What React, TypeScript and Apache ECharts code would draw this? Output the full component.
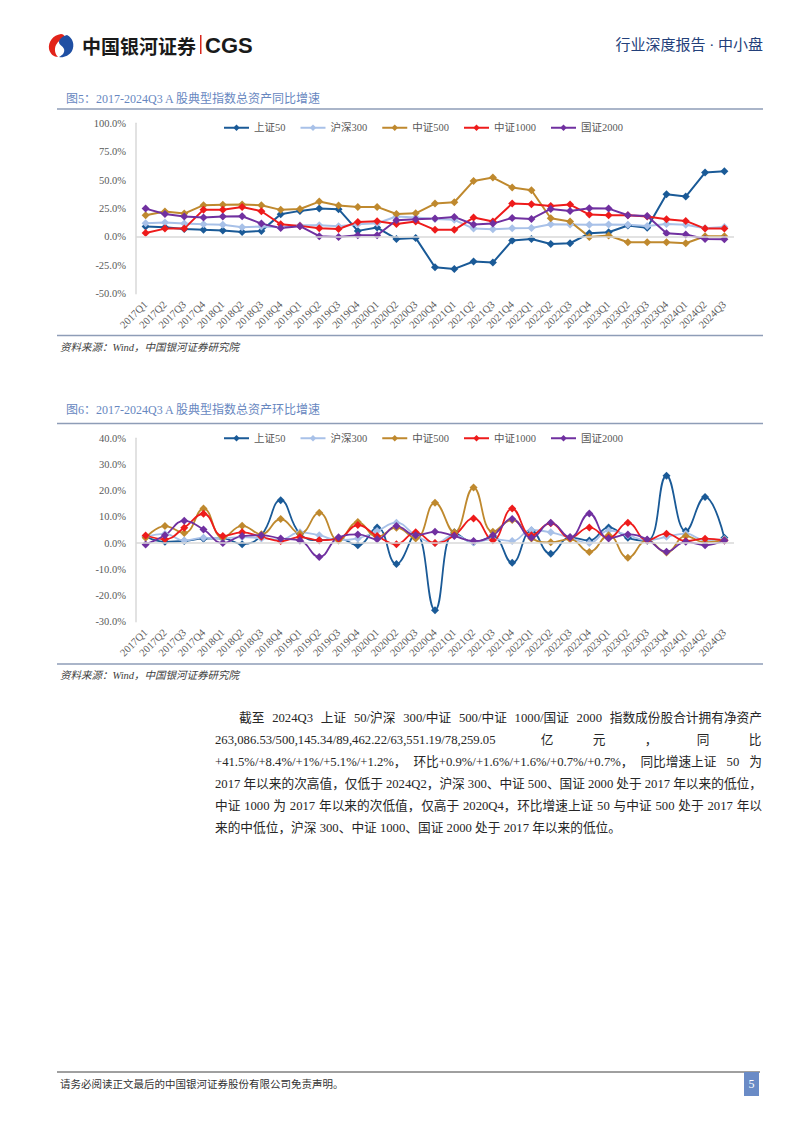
import React, { useEffect, useRef } from "react";
import * as echarts from "echarts";

// ---------------- data ----------------
const categories = [
  "2017Q1", "2017Q2", "2017Q3", "2017Q4",
  "2018Q1", "2018Q2", "2018Q3", "2018Q4",
  "2019Q1", "2019Q2", "2019Q3", "2019Q4",
  "2020Q1", "2020Q2", "2020Q3", "2020Q4",
  "2021Q1", "2021Q2", "2021Q3", "2021Q4",
  "2022Q1", "2022Q2", "2022Q3", "2022Q4",
  "2023Q1", "2023Q2", "2023Q3", "2023Q4",
  "2024Q1", "2024Q2", "2024Q3",
];

const seriesNames = ["上证50", "沪深300", "中证500", "中证1000", "国证2000"];

// 同比增速 (%)
const sz50Yoy = [9.1, 8.5, 7.0, 6.2, 5.6, 4.4, 5.3, 20.0, 22.9, 25.0, 24.4, 5.3, 8.2, -1.8, -0.9, -26.7, -28.2, -21.7, -22.6, -3.2, -1.8, -6.2, -5.6, 3.2, 4.1, 10.0, 8.0, 37.6, 35.5, 56.6, 57.8];
const hs300Yoy = [12.0, 12.6, 11.7, 11.1, 10.6, 8.5, 9.1, 8.5, 10.3, 10.3, 9.4, 11.1, 12.0, 17.9, 17.0, 15.8, 15.0, 7.3, 6.7, 7.6, 7.9, 11.1, 10.9, 10.6, 10.9, 10.6, 9.7, 11.4, 10.6, 7.6, 8.8];
const zz500Yoy = [19.0, 22.3, 20.5, 27.9, 28.2, 28.5, 27.9, 23.8, 24.6, 31.1, 27.6, 26.4, 26.4, 20.2, 20.8, 29.3, 30.5, 49.3, 52.2, 43.4, 41.1, 16.4, 13.5, 0.0, 1.2, -4.7, -4.7, -4.7, -5.6, 0.6, 0.6];
const zz1000Yoy = [3.5, 7.3, 7.3, 24.0, 24.0, 26.4, 22.6, 11.1, 9.7, 7.6, 7.0, 13.2, 13.8, 11.4, 13.5, 6.2, 6.2, 17.0, 13.5, 29.3, 28.8, 27.3, 28.5, 19.7, 19.1, 19.1, 17.9, 15.6, 14.1, 7.3, 7.3];
const gz2000Yoy = [24.9, 20.2, 17.9, 17.0, 17.9, 18.2, 11.7, 7.9, 9.4, 0.6, 0.0, 1.5, 1.5, 14.7, 15.6, 16.1, 17.6, 10.9, 11.7, 16.7, 15.8, 24.6, 22.9, 25.2, 24.9, 19.1, 18.5, 3.2, 2.1, -1.8, -2.1];

// 环比增速 (%)
const sz50Qoq = [2.5, 0.5, 0.8, 1.7, 1.8, -0.4, 3.0, 16.4, 3.5, 1.1, 1.8, -0.8, 6.0, -8.0, 3.7, -25.6, 4.1, 0.3, 2.4, -7.5, 4.8, -4.1, 2.2, 1.0, 6.0, 2.0, 0.9, 25.7, 4.6, 17.6, 2.0];
const hs300Qoq = [2.4, 3.5, 1.0, 2.0, 1.8, 2.3, 1.8, 1.4, 4.1, 3.0, 1.1, 1.8, 4.6, 7.8, 3.0, 0.0, 3.0, 0.3, 1.5, 0.8, 5.0, 4.1, 2.0, 0.0, 4.8, 3.0, 1.1, 2.4, 3.6, 1.1, 1.5];
const zz500Qoq = [2.0, 6.5, 3.9, 13.2, 2.0, 6.6, 3.4, 9.2, 3.6, 11.6, 1.0, 8.1, 2.4, 5.9, 1.8, 15.4, 4.1, 21.2, 4.3, 8.8, 1.8, 0.3, 1.5, -3.4, 3.0, -5.6, 1.1, -3.6, 2.7, 0.3, 1.1];
const zz1000Qoq = [2.9, 1.5, 5.9, 11.2, 2.7, 4.1, 2.4, 0.8, 2.3, 1.1, 1.7, 6.9, 2.7, -0.4, 4.1, 0.0, 3.0, 9.4, 1.1, 13.2, 3.0, 7.6, 2.0, 6.0, 2.0, 7.8, 1.1, 3.6, 0.8, 1.7, 1.0];
const gz2000Qoq = [-0.5, 3.0, 8.5, 5.2, 0.0, 2.7, 3.0, 1.8, 1.0, -5.3, 2.2, 3.3, 1.5, 6.5, 3.0, 4.3, 2.7, 0.8, 3.0, 9.2, 2.0, 7.8, 2.2, 11.3, 1.8, 3.3, 1.4, -3.3, 0.5, -0.8, 1.0];

const yoyAxis = { min: -50, max: 100, interval: 25 };
const qoqAxis = { min: -30, max: 40, interval: 10 };

const headerLeft = "中国银河证券";
const headerBrand = "CGS";
const headerRight = "行业深度报告 · 中小盘";
const title1 = "图5：2017-2024Q3 A 股典型指数总资产同比增速";
const title2 = "图6：2017-2024Q3 A 股典型指数总资产环比增速";
const sourceText = "资料来源：Wind，中国银河证券研究院";
const paragraphLines = [
  "截至 2024Q3 上证 50/沪深 300/中证 500/中证 1000/国证 2000 指数成份股合计拥有净资产",
  "263,086.53/500,145.34/89,462.22/63,551.19/78,259.05",
  "+41.5%/+8.4%/+1%/+5.1%/+1.2%，环比+0.9%/+1.6%/+1.6%/+0.7%/+0.7%，同比增速上证 50 为",
  "2017 年以来的次高值，仅低于 2024Q2，沪深 300、中证 500、国证 2000 处于 2017 年以来的低位，",
  "中证 1000 为 2017 年以来的次低值，仅高于 2020Q4，环比增速上证 50 与中证 500 处于 2017 年以",
  "来的中低位，沪深 300、中证 1000、国证 2000 处于 2017 年以来的低位。",
];
const line2Tail = ["亿", "元", "，", "同", "比"];
const footerText = "请务必阅读正文最后的中国银河证券股份有限公司免责声明。";
const pageNo = "5";

// ---------------- styles ----------------
const colors = ["#1A5A97", "#A8C1E8", "#BF892E", "#EE1B1B", "#7030A0"];
const SERIF = "'Liberation Serif', 'Noto Sans CJK SC', serif";
const CJK = "'Noto Sans CJK SC', sans-serif";
const axisGray = "#595959";

const RED_D = "M14 2 C6 3 1 10 2 17 C3 22 7 25 11 25 C8 22 7 17 9 13 C11 9 15 7 18 5 C17 3 16 2 14 2 Z";
const BLUE_D = "M20 3 C26 6 28 13 25 19 C22 24 16 26 12 25 C16 23 18 20 17 17 C16 14 12 13 12 10 C12 7 16 4 20 3 Z";
echarts.graphic.registerShape("logoRed", echarts.graphic.extendPath(RED_D, {}));
echarts.graphic.registerShape("logoBlue", echarts.graphic.extendPath(BLUE_D, {}));

let measureCtx: CanvasRenderingContext2D | null = null;
function measure(text: string, font: string) {
  if (!measureCtx) measureCtx = document.createElement("canvas").getContext("2d");
  measureCtx!.font = font;
  return measureCtx!.measureText(text).width;
}

function txt(text: string, x: number, y: number, font: string, fill: string, align = "left") {
  return {
    type: "text",
    silent: true,
    style: { text, x, y, font, fill, textAlign: align, textVerticalAlign: "middle" },
  };
}

// split a line at spaces and after CJK punctuation, then spread the spare width over the breaks
function justified(text: string, x0: number, x1: number, y: number, font: string, fill: string) {
  const segs: { t: string; base: number }[] = [];
  const spaceW = measure(" ", font);
  let cur = "";
  for (const ch of text) {
    if (ch === " ") {
      if (cur) segs.push({ t: cur, base: spaceW });
      cur = "";
    } else if (ch === "，" || ch === "、") {
      cur += ch;
      segs.push({ t: cur, base: 0 });
      cur = "";
    } else cur += ch;
  }
  if (cur) segs.push({ t: cur, base: 0 });
  segs[segs.length - 1].base = 0;
  const widths = segs.map((s) => measure(s.t, font));
  const total = widths.reduce((a, b) => a + b, 0) + segs.slice(0, -1).reduce((a, s) => a + s.base, 0);
  const extra = segs.length > 1 ? (x1 - x0 - total) / (segs.length - 1) : 0;
  let x = x0;
  return segs.map((s, i) => {
    const el = txt(s.t, x, y, font, fill);
    x += widths[i] + s.base + extra;
    return el;
  });
}

function buildOption() {
  const yoy = [sz50Yoy, hs300Yoy, zz500Yoy, zz1000Yoy, gz2000Yoy];
  const qoq = [sz50Qoq, hs300Qoq, zz500Qoq, zz1000Qoq, gz2000Qoq];

  const grids = [
    { left: 136, top: 123.3, width: 598, height: 170.4 },
    { left: 136, top: 438.3, width: 598, height: 183.4 },
  ];

  const xAxisBase = {
    type: "category",
    data: categories,
    boundaryGap: true,
    axisLine: { show: false },
    axisTick: { show: false },
    axisLabel: { rotate: 45, interval: 0, fontSize: 10.5, color: axisGray, fontFamily: SERIF, margin: 9 },
  };
  const yAxisBase = (ax: { min: number; max: number; interval: number }) => ({
    type: "value",
    min: ax.min,
    max: ax.max,
    interval: ax.interval,
    axisLine: { show: true, lineStyle: { color: "#D9D9D9", width: 1.5 } },
    axisTick: { show: false },
    splitLine: { show: false },
    axisLabel: {
      formatter: (v: number) => v.toFixed(1) + "%",
      fontSize: 10.5,
      color: axisGray,
      fontFamily: SERIF,
      margin: 10,
    },
  });

  const zeroLine = (idx: number) => ({
    type: "line",
    xAxisIndex: idx,
    yAxisIndex: idx,
    data: [],
    silent: true,
    markLine: {
      silent: true,
      symbol: "none",
      label: { show: false },
      lineStyle: { color: "#D9D9D9", type: "solid", width: 1.5 },
      data: [{ yAxis: 0 }],
    },
  });

  const series: any[] = [zeroLine(0), zeroLine(1)];
  seriesNames.forEach((name, i) => {
    series.push({
      name,
      type: "line",
      xAxisIndex: 0,
      yAxisIndex: 0,
      data: yoy[i],
      symbol: "diamond",
      symbolSize: 8,
      lineStyle: { width: 2, color: colors[i] },
      itemStyle: { color: colors[i] },
    });
  });
  seriesNames.forEach((name, i) => {
    series.push({
      name,
      type: "line",
      xAxisIndex: 1,
      yAxisIndex: 1,
      data: qoq[i],
      smooth: 0.45,
      symbol: "diamond",
      symbolSize: 8,
      lineStyle: { width: 1.8, color: colors[i] },
      itemStyle: { color: colors[i] },
    });
  });

  const legendBase = {
    data: seriesNames,
    left: 223,
    itemWidth: 25,
    itemHeight: 8,
    itemGap: 14,
    padding: 0,
    selectedMode: false,
    textStyle: { fontSize: 10.5, color: axisGray, fontFamily: SERIF },
  };

  const pFont = `12.7px ${SERIF}`;
  const pFill = "#262626";
  const paraY = [718, 740, 762, 784, 806, 828];
  const graphics: any[] = [];

  // header
  graphics.push({ type: "logoRed", x: 47, y: 32, silent: true, style: { fill: "#E2231A" } });
  graphics.push({ type: "logoBlue", x: 47, y: 32, silent: true, style: { fill: "#1F4FA3" } });
  graphics.push(txt(headerLeft, 82, 45, `bold 19px ${CJK}`, "#1A1A1A"));
  graphics.push({ type: "rect", silent: true, shape: { x: 200, y: 35, width: 1.5, height: 19 }, style: { fill: "#D9261C" } });
  graphics.push(txt(headerBrand, 205, 45.5, `bold 22px 'Liberation Sans', Arial, sans-serif`, "#1A1A1A"));
  graphics.push(txt(headerRight, 763, 45, `15px ${SERIF}`, "#23407A", "right"));

  // chart frames and titles
  const frameColor = "#8E9DB7";
  [
    { title: title1, ty: 99, top: 109, bottom: 335.5, sy: 347.5 },
    { title: title2, ty: 410, top: 423.5, bottom: 664, sy: 675.5 },
  ].forEach((f) => {
    graphics.push(txt(f.title, 66, f.ty, `12px ${SERIF}`, "#6787BF"));
    graphics.push({ type: "line", silent: true, shape: { x1: 57, y1: f.top, x2: 763, y2: f.top }, style: { stroke: frameColor, lineWidth: 1.5 } });
    graphics.push({ type: "line", silent: true, shape: { x1: 57, y1: f.bottom, x2: 763, y2: f.bottom }, style: { stroke: frameColor, lineWidth: 1.5 } });
    graphics.push(txt(sourceText, 60, f.sy, `italic 10.5px ${SERIF}`, "#404040"));
  });

  // paragraph
  graphics.push(...justified(paragraphLines[0], 239, 762, paraY[0], pFont, pFill));
  graphics.push(txt(paragraphLines[1], 215, paraY[1], pFont, pFill));
  const tailX = [547, 599, 651, 703, 755];
  line2Tail.forEach((c, i) => graphics.push(txt(c, tailX[i], paraY[1], pFont, pFill, "center")));
  for (let i = 2; i <= 4; i++) graphics.push(...justified(paragraphLines[i], 215, 762, paraY[i], pFont, pFill));
  graphics.push(txt(paragraphLines[5], 215, paraY[5], pFont, pFill));

  // footer
  graphics.push({ type: "line", silent: true, shape: { x1: 57, y1: 1072, x2: 760, y2: 1072 }, style: { stroke: "#404040", lineWidth: 1 } });
  graphics.push(txt(footerText, 60, 1084, `10.5px ${SERIF}`, "#333333"));
  graphics.push({ type: "rect", silent: true, shape: { x: 744, y: 1072, width: 15, height: 24 }, style: { fill: "#6A8BC6" } });
  graphics.push(txt(pageNo, 751.5, 1084, `12px ${SERIF}`, "#FFFFFF", "center"));

  return {
    animation: false,
    backgroundColor: "#FFFFFF",
    textStyle: { fontFamily: SERIF },
    grid: grids,
    legend: [
      { ...legendBase, top: 122.5 },
      { ...legendBase, top: 433 },
    ],
    xAxis: [
      { ...xAxisBase, gridIndex: 0 },
      { ...xAxisBase, gridIndex: 1 },
    ],
    yAxis: [
      { ...yAxisBase(yoyAxis), gridIndex: 0 },
      { ...yAxisBase(qoqAxis), gridIndex: 1 },
    ],
    series,
    graphic: graphics,
  };
}

export default function App() {
  const ref = useRef<HTMLDivElement>(null);
  useEffect(() => {
    document.body.style.margin = "0";
    const chart = echarts.init(ref.current!, undefined, { renderer: "svg", width: 802, height: 1133 });
    chart.setOption(buildOption() as any);
    return () => chart.dispose();
  }, []);
  return <div ref={ref} style={{ width: 802, height: 1133, background: "#FFFFFF" }} />;
}
